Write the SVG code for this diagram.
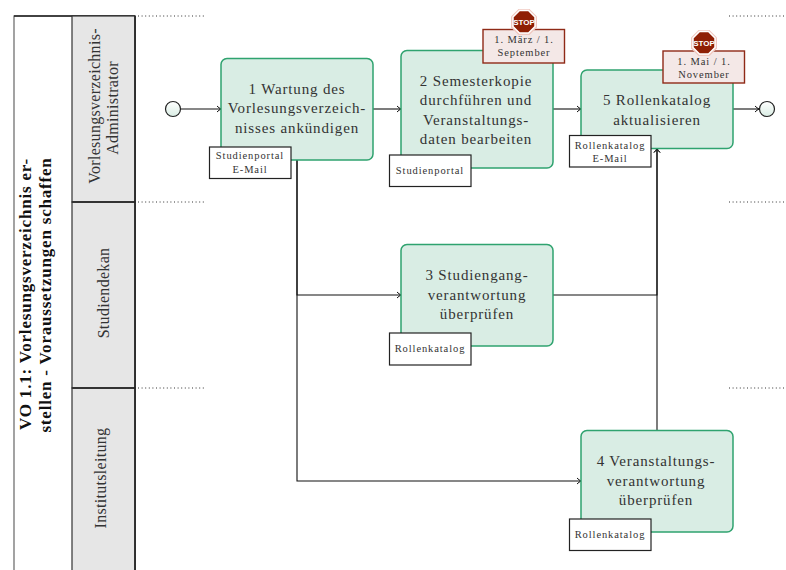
<svg xmlns="http://www.w3.org/2000/svg" width="786" height="570" viewBox="0 0 786 570">
<defs>
<marker id="arr" markerWidth="7" markerHeight="8" refX="5.5" refY="4" orient="auto" markerUnits="userSpaceOnUse"><path d="M1.5 1 Q3.5 3 5.5 4 Q3.5 5 1.5 7" fill="none" stroke="#111" stroke-width="1"/></marker>
<linearGradient id="ev" x1="0" y1="0" x2="0" y2="1"><stop offset="0" stop-color="#fff"/><stop offset="1" stop-color="#d9ede4"/></linearGradient>
</defs>
<style>
text{font-family:"Liberation Serif","Times New Roman",serif;fill:#333;text-anchor:middle}
.t{font-size:15px;letter-spacing:.85px}
.s{font-size:10.5px;letter-spacing:.9px}
.l{font-size:16px;letter-spacing:.3px;fill:#333}
.h{font-size:17px;font-weight:bold;fill:#111;letter-spacing:.8px}
.task{fill:#d9ede4;stroke:#2fa36f;stroke-width:1.5}
.doc{fill:#fff;stroke:#222;stroke-width:1.2}
.note{fill:#f4e8e7;stroke:#8f2a17;stroke-width:1.4}
.lane{fill:#e6e6e6;stroke:#333;stroke-width:1.2}
.sep{stroke:#333;stroke-width:2;fill:none}
.right{stroke:#222;stroke-width:1.6;fill:none}
.dot{stroke:#333;stroke-width:1;stroke-dasharray:1 2.6;fill:none}
.con{stroke:#111;stroke-width:1.1;fill:none}
.ev{fill:url(#ev);stroke:#222;stroke-width:1.2}
.stop{fill:#8f1f05;stroke:#fff;stroke-width:1.5}
.oct{fill:#f0c8c0;stroke:none}
.st{font-family:"Liberation Sans",Arial,sans-serif;font-size:8px;font-weight:bold;fill:#fff;letter-spacing:0}
</style>
<g id="pool">
<rect x="14" y="16" width="121" height="558" fill="#fff" stroke="#666" stroke-width="1.2"/>
<path class="right" d="M14 16H135"/>
<text class="h" transform="translate(31,294) rotate(-90)">VO 1.1: Vorlesungsverzeichnis er-</text>
<text class="h" transform="translate(51,295) rotate(-90)">stellen - Voraussetzungen schaffen</text>
</g>
<g id="lane1"><rect class="lane" x="72" y="16" width="63" height="186"/>
<text class="l" transform="translate(100,106) rotate(-90)">Vorlesungsverzeichnis-</text>
<text class="l" transform="translate(118,108) rotate(-90)">Administrator</text></g>
<g id="lane2"><rect class="lane" x="72" y="202" width="63" height="186"/>
<text class="l" transform="translate(109,293) rotate(-90)">Studiendekan</text></g>
<g id="lane3"><rect class="lane" x="72" y="388" width="63" height="186"/>
<text class="l" transform="translate(106,478) rotate(-90)">Institutsleitung</text></g>
<g id="lane-guides">
<path class="sep" d="M72 202H135M72 388H135"/>
<path class="right" d="M135 16V570"/>
<path class="dot" d="M138 16H205M138 202H205M138 388H205M729 16H786M729 202H786M729 388H786"/>
</g>
<g id="connectors">
<path class="con" marker-end="url(#arr)" d="M181 109H221"/>
<path class="con" marker-end="url(#arr)" d="M373 109H401"/>
<path class="con" marker-end="url(#arr)" d="M553 109H581"/>
<path class="con" marker-end="url(#arr)" d="M733 109H759"/>
<path class="con" marker-end="url(#arr)" d="M297 160V295H401"/>
<path class="con" marker-end="url(#arr)" d="M297 160V481H581"/>
<path class="con" marker-end="url(#arr)" d="M553 295H657V148.5"/>
<path class="con" marker-end="url(#arr)" d="M657 430V148.5"/>
</g>
<g id="start"><circle class="ev" cx="173" cy="109" r="7.5"/></g>
<g id="end"><circle class="ev" cx="767" cy="109" r="7.5"/></g>
<g id="task1"><rect class="task" x="221" y="58.5" width="152" height="101.5" rx="6"/>
<text class="t" x="297" y="94">1 Wartung des</text>
<text class="t" x="297" y="113">Vorlesungsverzeich-</text>
<text class="t" x="297" y="133">nisses ankündigen</text>
<rect class="doc" x="209.5" y="147" width="81.5" height="31.5"/>
<text class="s" x="250" y="159">Studienportal</text>
<text class="s" x="250" y="173">E-Mail</text></g>
<g id="task2"><rect class="task" x="401" y="50.5" width="152" height="117.5" rx="6"/>
<text class="t" x="476" y="86">2 Semesterkopie</text>
<text class="t" x="476" y="105">durchführen und</text>
<text class="t" x="476" y="125">Veranstaltungs-</text>
<text class="t" x="476" y="144">daten bearbeiten</text>
<rect class="doc" x="389.5" y="155" width="81.5" height="31.5"/>
<text class="s" x="430" y="174">Studienportal</text>
<rect class="note" x="483" y="29.5" width="81.5" height="33.5"/>
<text class="s" x="524" y="43">1. März / 1.</text>
<text class="s" x="524" y="56">September</text>
<polygon class="oct" points="518.5,9 529.5,9 537,16.5 537,27.5 529.5,35 518.5,35 511,27.5 511,16.5"/>
<polygon class="stop" points="519.5,10.5 528.5,10.5 535,17 535,26.5 528.5,33 519.5,33 513,26.5 513,17"/>
<text class="st" x="524" y="25">STOP</text></g>
<g id="task3"><rect class="task" x="401" y="244.5" width="152" height="101.5" rx="6"/>
<text class="t" x="477" y="280">3 Studiengang-</text>
<text class="t" x="477" y="300">verantwortung</text>
<text class="t" x="477" y="319">überprüfen</text>
<rect class="doc" x="389.5" y="333" width="81.5" height="32"/>
<text class="s" x="430" y="352">Rollenkatalog</text></g>
<g id="task4"><rect class="task" x="581" y="430.5" width="152" height="101.5" rx="6"/>
<text class="t" x="656" y="466">4 Veranstaltungs-</text>
<text class="t" x="656" y="486">verantwortung</text>
<text class="t" x="656" y="505">überprüfen</text>
<rect class="doc" x="569.5" y="519" width="81.5" height="31.5"/>
<text class="s" x="610" y="538">Rollenkatalog</text></g>
<g id="task5"><rect class="task" x="581" y="70" width="152" height="78.5" rx="6"/>
<text class="t" x="657" y="105">5 Rollenkatalog</text>
<text class="t" x="657" y="125">aktualisieren</text>
<rect class="doc" x="569.5" y="135.5" width="81.5" height="31.5"/>
<text class="s" x="610" y="149">Rollenkatalog</text>
<text class="s" x="610" y="162">E-Mail</text>
<rect class="note" x="663" y="51" width="81.5" height="32"/>
<text class="s" x="704" y="65">1. Mai / 1.</text>
<text class="s" x="704" y="78">November</text>
<polygon class="oct" points="698.5,30 709.5,30 717,37.5 717,48.5 709.5,56 698.5,56 691,48.5 691,37.5"/>
<polygon class="stop" points="699.5,31.5 708.5,31.5 715,38 715,47.5 708.5,54 699.5,54 693,47.5 693,38"/>
<text class="st" x="704" y="46">STOP</text></g>
</svg>
